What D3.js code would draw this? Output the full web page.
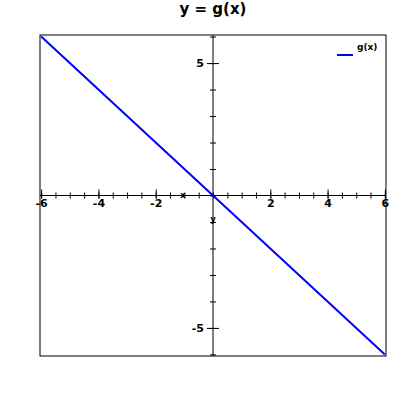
<!DOCTYPE html>
<html>
<head>
<meta charset="utf-8">
<script src="https://cdn.jsdelivr.net/npm/d3@7"></script>
<style>
  body { margin: 0; background: #fff; }
  svg { display: block; font-family: "DejaVu Sans", Verdana, sans-serif; font-weight: bold; }
</style>
</head>
<body>
<div id="chart"></div>
<script>
// g(x) = -x, sampled at the ends of the visible range
const xs = [-6, 6];
const ys = [6, -6];
const xTickLabels = [-6, -4, -2, 2, 4, 6];
const yTickLabels = [-5, 5];
const xMinorTicks = d3.range(-6, 6.01, 0.5);
const yMinorTicks = d3.range(-6, 6.01, 1);

const W = 400, H = 400;
const box = {left: 40, right: 386, top: 35, bottom: 356};

const svg = d3.select('#chart').append('svg')
  .attr('width', W)
  .attr('height', H);

const x = d3.scaleLinear()
  .domain([-6.04, 6.04])
  .range([box.left, box.right]);

const y = d3.scaleLinear()
  .domain([-6.06, 6.06])
  .range([box.bottom, box.top]);

const fmt = d => String(d); // plain hyphen for negatives

// title
svg.append('text')
  .attr('x', (box.left + box.right) / 2)
  .attr('y', 14)
  .attr('text-anchor', 'middle')
  .style('font-size', '15px')
  .text('y = g(x)');

// frame
svg.append('rect')
  .attr('x', box.left)
  .attr('y', box.top)
  .attr('width', box.right - box.left)
  .attr('height', box.bottom - box.top)
  .attr('fill', 'none')
  .attr('stroke', '#000')
  .attr('stroke-width', 1);

// x axis through y = 0
svg.append('g')
  .attr('transform', `translate(0,${y(0)})`)
  .call(d3.axisBottom(x).tickValues(xMinorTicks).tickSize(3).tickFormat(''))
  .call(g => g.select('.domain').remove())
  .call(g => g.selectAll('.tick line').attr('y1', -3));

svg.append('g')
  .attr('transform', `translate(0,${y(0)})`)
  .call(d3.axisBottom(x).tickValues(xTickLabels).tickSize(0).tickFormat(fmt))
  .call(g => g.select('.domain').remove())
  .call(g => g.selectAll('.tick line').attr('y1', -6).attr('y2', 3).attr('stroke', '#000'))
  .call(g => g.selectAll('.tick text')
    .attr('y', 0)
    .attr('dy', '1em')
    .attr('fill', '#000')
    .style('font-size', '11px')
    .style('font-family', '"DejaVu Sans", sans-serif')
    .style('font-weight', 'bold'));

svg.append('line')
  .attr('x1', box.left).attr('x2', box.right)
  .attr('y1', y(0)).attr('y2', y(0))
  .attr('stroke', '#000');

// y axis through x = 0
svg.append('g')
  .attr('transform', `translate(${x(0)},0)`)
  .call(d3.axisLeft(y).tickValues(yMinorTicks).tickSize(3).tickFormat(''))
  .call(g => g.select('.domain').remove())
  .call(g => g.selectAll('.tick line').attr('x1', 3));

svg.append('g')
  .attr('transform', `translate(${x(0)},0)`)
  .call(d3.axisLeft(y).tickValues(yTickLabels).tickSize(6).tickPadding(3).tickFormat(fmt))
  .call(g => g.select('.domain').remove())
  .call(g => g.selectAll('.tick line').attr('x1', 6))
  .call(g => g.selectAll('.tick text')
    .attr('fill', '#000')
    .style('font-size', '11px')
    .style('font-family', '"DejaVu Sans", sans-serif')
    .style('font-weight', 'bold'));

svg.append('line')
  .attr('x1', x(0)).attr('x2', x(0))
  .attr('y1', box.top).attr('y2', box.bottom)
  .attr('stroke', '#000');

// axis names
svg.append('text')
  .attr('x', x(-1.05))
  .attr('y', y(0) + 2)
  .attr('text-anchor', 'middle')
  .style('font-size', '8px')
  .text('x');

svg.append('text')
  .attr('x', x(0))
  .attr('y', y(-1))
  .attr('text-anchor', 'middle')
  .style('font-size', '8px')
  .text('y');

// the line
const line = d3.line()
  .x((d, i) => x(xs[i]))
  .y(d => y(d));

svg.append('path')
  .datum(ys)
  .attr('d', line)
  .attr('fill', 'none')
  .attr('stroke', '#0000ff')
  .attr('stroke-width', 2);

// legend
svg.append('line')
  .attr('x1', 337).attr('x2', 353)
  .attr('y1', 55).attr('y2', 55)
  .attr('stroke', '#0000ff')
  .attr('stroke-width', 2);

svg.append('text')
  .attr('x', 357)
  .attr('y', 50)
  .style('font-size', '9px')
  .text('g(x)');
</script>
</body>
</html>
